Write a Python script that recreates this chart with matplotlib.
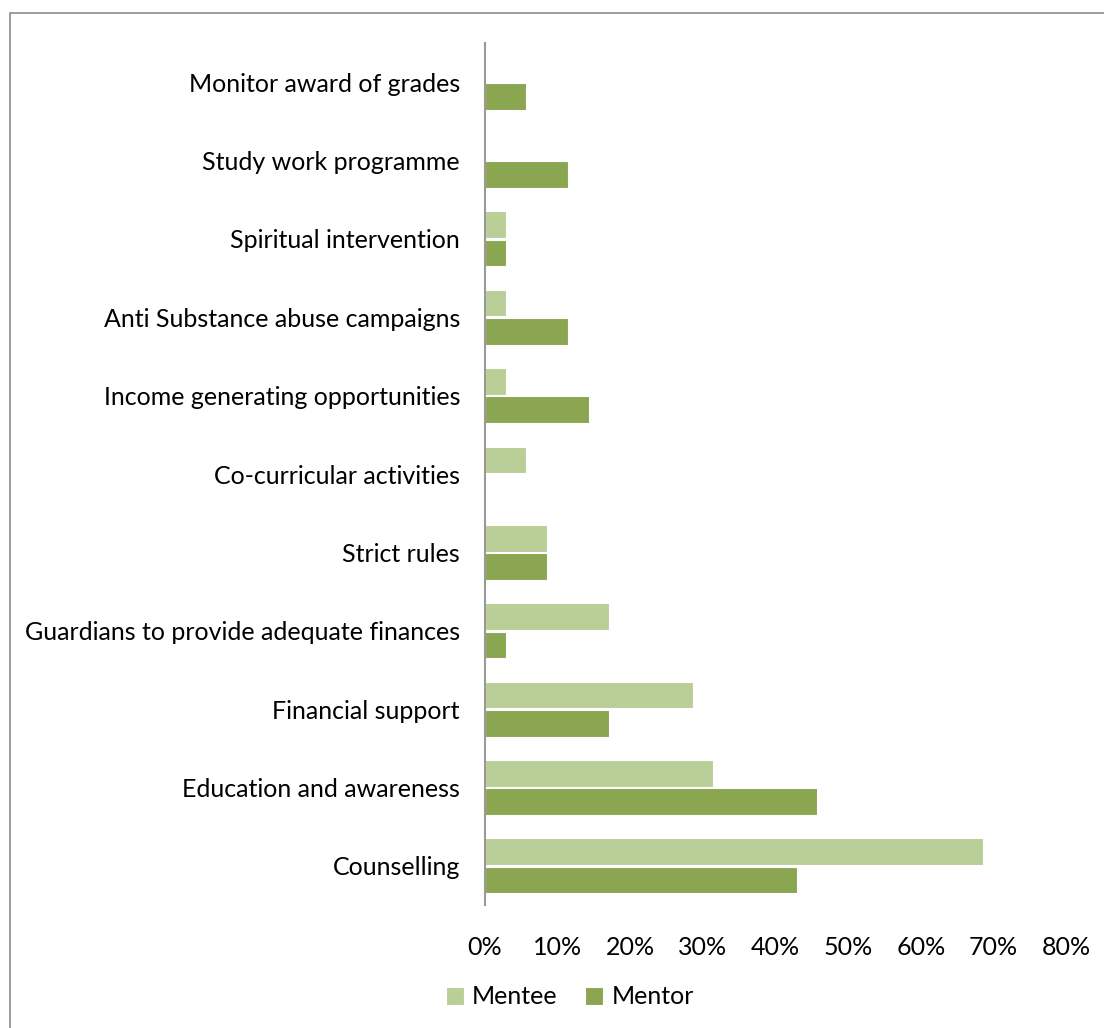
import matplotlib
matplotlib.use("Agg")
import matplotlib.pyplot as plt
from matplotlib.patches import Rectangle
import numpy as np

categories = [
    "Counselling",
    "Education and awareness",
    "Financial support",
    "Guardians to provide adequate finances",
    "Strict rules",
    "Co-curricular activities",
    "Income generating opportunities",
    "Anti Substance abuse campaigns",
    "Spiritual intervention",
    "Study work programme",
    "Monitor award of grades",
]
mentee = [68.6, 31.4, 28.6, 17.1, 8.6, 5.7, 2.9, 2.9, 2.9, 0.0, 0.0]
mentor = [42.9, 45.7, 17.1, 2.9, 8.6, 0.0, 14.3, 11.4, 2.9, 11.4, 5.7]
xticks = [0, 10, 20, 30, 40, 50, 60, 70, 80]

plt.rcParams["font.family"] = ["Lato", "DejaVu Sans"]

W, H = 1104, 1028
fig = plt.figure(figsize=(W / 100, H / 100), dpi=100)

# outer chart frame (right and bottom edges run past the canvas)
fig.patches.append(Rectangle((10 / W, -0.5), 1.5, 1.5 - 13 / H, transform=fig.transFigure,
                             fill=False, edgecolor="#8c8c8c", linewidth=1.2))

ax = fig.add_axes([485 / W, 1 - 905 / H, (1066 - 485) / W, (905 - 43) / H])

y = np.arange(len(categories))
h = 0.34
off = 0.18
c_mentee = "#BACF97"
c_mentor = "#8AA650"
ax.barh(y + off, mentee, height=h, color=c_mentee, edgecolor="white", linewidth=0.8, label="Mentee")
ax.barh(y - off, mentor, height=h, color=c_mentor, edgecolor="white", linewidth=0.8, label="Mentor")

ax.set_xlim(0, 80)
ax.set_ylim(-0.5, len(categories) - 0.5)
ax.set_yticks(y)
ax.set_yticklabels(categories, fontsize=18, color="#000000")
ax.set_xticks(xticks)
ax.set_xticklabels([f"{t}%" for t in xticks], fontsize=18)
ax.tick_params(axis="y", length=0, pad=18)
ax.tick_params(axis="x", length=0, pad=22)

for s in ["top", "right", "bottom"]:
    ax.spines[s].set_visible(False)
ax.spines["left"].set_color("#999999")
ax.spines["left"].set_linewidth(1.5)

leg = fig.legend(loc="center", bbox_to_anchor=(570 / W, 1 - 997 / H), ncol=2, frameon=False,
                 fontsize=18, handlelength=0.7, handleheight=0.7, handletextpad=0.35,
                 columnspacing=1.1)

fig.savefig("out.png", dpi=100)
